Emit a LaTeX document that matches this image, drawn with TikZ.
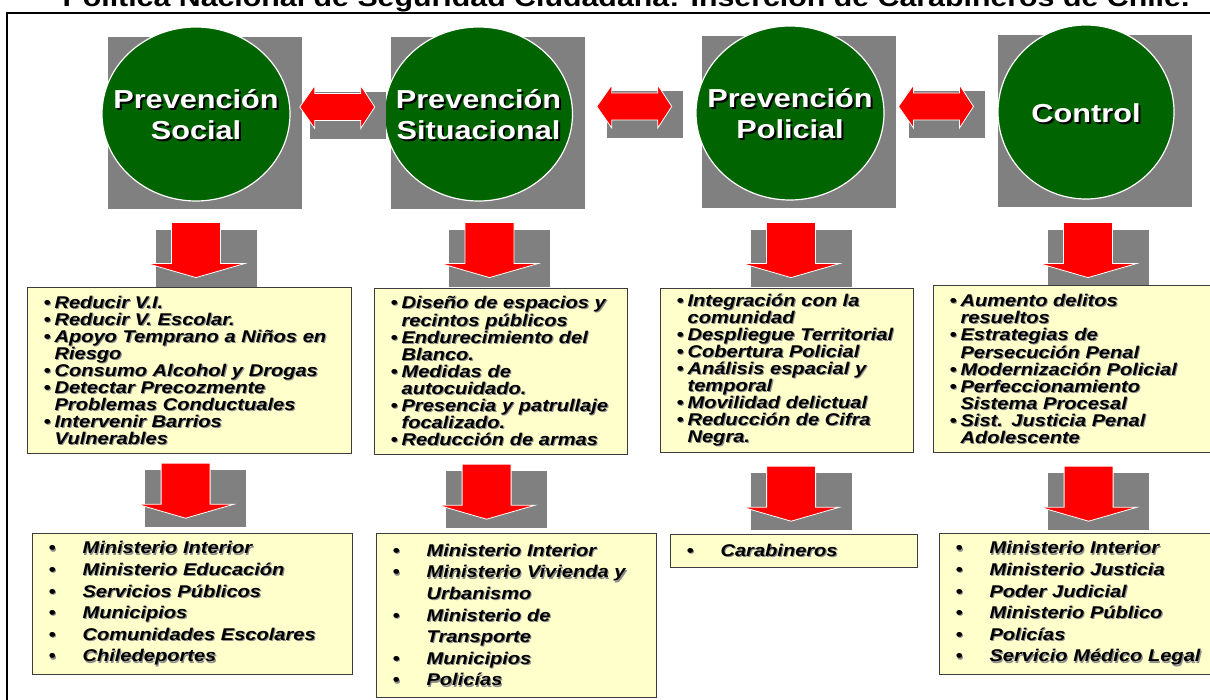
\documentclass[tikz,border=0pt]{standalone}
\usepackage{fontspec}
\setmainfont{Liberation Sans}[FakeStretch=1.18]
\usetikzlibrary{positioning,shapes.geometric,calc,backgrounds}

\definecolor{phasegreen}{RGB}{0,100,0}
\definecolor{boxyellow}{RGB}{255,255,204}
\definecolor{boxedge}{RGB}{60,60,60}
\definecolor{graybg}{RGB}{128,128,128}

% text with a small drop shadow
\newcommand{\shd}[1]{\leavevmode\rlap{\kern1.1pt\lower1.1pt\hbox{\color{black!45}#1}}\mbox{#1}}
\newcommand{\shdw}[1]{\leavevmode\rlap{\kern2pt\lower2pt\hbox{\color{black}#1}}\mbox{#1}}
\newcommand{\itm}[1]{\shd{\makebox[11pt][l]{•}#1}}
\newcommand{\cnt}[1]{\hspace*{11pt}\shd{#1}}
\newcommand{\org}[1]{\shd{\makebox[34pt][l]{•}#1}}
\newcommand{\orgc}[1]{\hspace*{34pt}\shd{#1}}

% block arrows with their grey backing
\newcommand{\dblarr}[1]{%
  \begin{scope}[shift={(#1)}]
    \fill[graybg] (-27.5,-15) rectangle (48.5,32);
    \filldraw[blockarrow] (-37.5,0) -- (-22.5,-21.5) -- (-22.5,-13.5) -- (23.5,-13.5) -- (23.5,-21.5)
      -- (37.5,0) -- (23.5,21.5) -- (23.5,13.5) -- (-22.5,13.5) -- (-22.5,21.5) -- cycle;
  \end{scope}}
\newcommand{\downarr}[1]{%
  \begin{scope}[shift={(#1)}]
    \fill[graybg] (-40.5,7) rectangle (60.5,64);
    \filldraw[blockarrow] (-24.5,0) -- (24.5,0) -- (24.5,41) -- (48.5,41) -- (0,55)
      -- (-48.5,41) -- (-24.5,41) -- cycle;
  \end{scope}}

\begin{document}
\begin{tikzpicture}[x=1pt,y=-1pt,
    phase/.style={ellipse, draw=white, line width=1.2pt, fill=phasegreen, minimum width=188pt, minimum height=174pt, inner sep=0pt},
    phasetxt/.style={text=white, align=center, yshift=-2pt, font=\bfseries\fontsize{26}{31}\selectfont},
    actbox/.style={draw=boxedge, fill=boxyellow, line width=1.2pt, anchor=north west, align=left, inner xsep=16pt, inner ysep=0pt, font=\bfseries\itshape\fontsize{17}{17}\selectfont},
    orgbox/.style={actbox, font=\bfseries\itshape\fontsize{17}{21.6}\selectfont},
    blockarrow/.style={fill=red, draw=white, line width=0.8pt}
  ]
  \useasboundingbox (0,0) rectangle (1210,700);

  \node[anchor=base, font=\bfseries\fontsize{25.7}{26}\selectfont] (title) at (626,7) {Política Nacional de Seguridad Ciudadana: Inserción de Carabineros de Chile.};

  \node[phase, label={[phasetxt]center:{\shdw{Prevención}\\\shdw{Social}}}] (social) at (196,114) {};
  \node[phase, label={[phasetxt]center:{\shdw{Prevención}\\\shdw{Situacional}}}] (situ) at (478.5,114) {};
  \node[phase, label={[phasetxt]center:{\shdw{Prevención}\\\shdw{Policial}}}] (poli) at (790,113) {};
  \node[phase, minimum width=176pt, label={[phasetxt]center:{\shdw{Control}}}] (ctrl) at (1086,112) {};

  \begin{scope}[on background layer]
    \foreach \n in {social,situ,poli,ctrl}
      \fill[graybg] ($(\n.center)+(-88,-77)$) rectangle ($(\n.center)+(106,95)$);
  \end{scope}

  \dblarr{$(social.east)!0.5!(situ.west)+(0,-7)$}
  \dblarr{$(situ.east)!0.5!(poli.west)+(0,-7)$}
  \dblarr{$(poli.east)!0.5!(ctrl.west)+(-5,-6)$}

  \downarr{$(social.south)+(0,21)$}
  \downarr{$(situ.south)+(11,21)$}
  \downarr{$(poli.south)+(1,22)$}
  \downarr{$(ctrl.south)+(2,23)$}

  \node[actbox, text width=292pt, minimum height=166pt] (socialact) at (27,287)
    {\itm{Reducir V.I.}\\ \itm{Reducir V. Escolar.}\\ \itm{Apoyo Temprano a Niños en}\\ \cnt{Riesgo}\\
     \itm{Consumo Alcohol y Drogas}\\ \itm{Detectar Precozmente}\\ \cnt{Problemas Conductuales}\\
     \itm{Intervenir Barrios}\\ \cnt{Vulnerables}};
  \node[actbox, text width=221pt, minimum height=166pt] (situact) at (374,288)
    {\itm{Diseño de espacios y}\\ \cnt{recintos públicos}\\ \itm{Endurecimiento del}\\ \cnt{Blanco.}\\
     \itm{Medidas de}\\ \cnt{autocuidado.}\\ \itm{Presencia y patrullaje}\\ \cnt{focalizado.}\\
     \itm{Reducción de armas}};
  \node[actbox, text width=221pt, minimum height=164pt] (poliact) at (660,288)
    {\itm{Integración con la}\\ \cnt{comunidad}\\ \itm{Despliegue Territorial}\\ \itm{Cobertura Policial}\\
     \itm{Análisis espacial y}\\ \cnt{temporal}\\ \itm{Movilidad delictual}\\ \itm{Reducción de Cifra}\\
     \cnt{Negra.}};
  \node[actbox, text width=255pt, minimum height=167pt] (ctrlact) at (933,285)
    {\itm{Aumento delitos}\\ \cnt{resueltos}\\ \itm{Estrategias de}\\ \cnt{Persecución Penal}\\
     \itm{Modernización Policial}\\ \itm{Perfeccionamiento}\\ \cnt{Sistema Procesal}\\
     \itm{Sist. Justicia Penal}\\ \cnt{Adolescente}};

  \downarr{$(socialact.south)+(-4,9)$}
  \downarr{$(situact.south)+(-14.5,9)$}
  \downarr{$(poliact.south)+(4,13)$}
  \downarr{$(ctrlact.south)+(11.5,13)$}

  \node[orgbox, text width=288pt, minimum height=141pt] (socialorg) at (32,533)
    {\org{Ministerio Interior}\\ \org{Ministerio Educación}\\ \org{Servicios Públicos}\\
     \org{Municipios}\\ \org{Comunidades Escolares}\\ \org{Chiledeportes}};
  \node[orgbox, text width=248pt, minimum height=164pt] (situorg) at (376,533)
    {\org{Ministerio Interior}\\ \org{Ministerio Vivienda y}\\ \orgc{Urbanismo}\\ \org{Ministerio de}\\
     \orgc{Transporte}\\ \org{Municipios}\\ \org{Policías}};
  \node[orgbox, text width=215pt, minimum height=33pt] (poliorg) at (670,534)
    {\org{Carabineros}};
  \node[orgbox, text width=249pt, minimum height=141pt] (ctrlorg) at (939,533)
    {\org{Ministerio Interior}\\ \org{Ministerio Justicia}\\ \org{Poder Judicial}\\
     \org{Ministerio Público}\\ \org{Policías}\\ \org{Servicio Médico Legal}};

  % outer frame, cut by the page on the right and bottom
  \draw[line width=2pt] (7,13) rectangle (1225,715);
\end{tikzpicture}
\end{document}
